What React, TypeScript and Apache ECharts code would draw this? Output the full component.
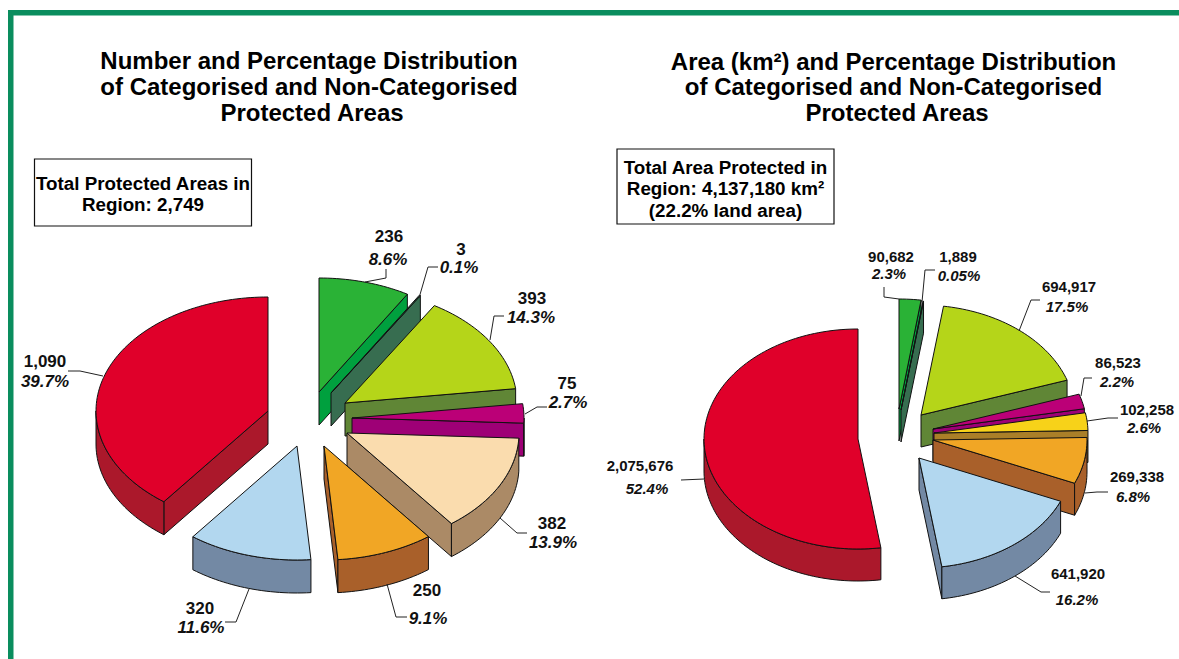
import React, { useEffect, useRef } from "react";
import * as echarts from "echarts";

const FONT = '"Liberation Sans", Arial, sans-serif';
const INK = "#111111";

// ---- data ----
const countValues = [236, 3, 393, 75, 382, 250, 320, 1090];
const countPercents = ["8.6%", "0.1%", "14.3%", "2.7%", "13.9%", "9.1%", "11.6%", "39.7%"];
const areaValues = [90682, 1889, 694917, 86523, 102258, 269338, 641920, 2075676];
const areaPercents = ["2.3%", "0.05%", "17.5%", "2.2%", "2.6%", "6.8%", "16.2%", "52.4%"];

const titleLeft = ["Number and Percentage Distribution", "of Categorised and Non-Categorised", "Protected Areas"];
const titleRight = ["Area (km²) and Percentage Distribution", "of Categorised and Non-Categorised", "Protected Areas"];
const boxLeft = ["Total Protected Areas in", "Region: 2,749"];
const boxRight = ["Total Area Protected in", "Region: 4,137,180 km²", "(22.2% land area)"];

// ---- styles ----
const topsLeft = ["#2AB236", "#2F7A4F", "#B5D519", "#BB0077", "#FADCAE", "#F1A625", "#B2D7EF", "#E0002A"];
const wallsLeft = ["#00A03E", "#376D50", "#608636", "#9E0076", "#AB8A66", "#A9602A", "#7389A4", "#AB182B"];
const topsRight = ["#2AB236", "#2F7A4F", "#B5D519", "#BB0077", "#F7D219", "#F1A625", "#B2D7EF", "#E0002A"];
const wallsRight = ["#00A03E", "#376D50", "#608636", "#9E0076", "#AA7F28", "#A9602A", "#7389A4", "#AB182B"];

// ---- layout ----
const leftPie = { cx: 303, cy: 417, rx: 172, ry: 114, depth: 33, font: 17 };
const rightPie = { cx: 910, cy: 425, rx: 154, ry: 110, depth: 32, font: 15 };
const leftExplode = [[16, -25], [28, -24], [42, -14], [49, 1], [44, 16], [21, 29], [-6, 29], [-35, -6]];
const rightExplode = [[-11, -16], [-9, -15], [11, -10], [23, 4], [24, 8], [23, 15], [9, 33], [-52, 14]];

const leftValuePos = [[389, 236], [461, 249], [532, 298], [567, 383], [552, 523], [427, 590], [200, 608], [45, 361]];
const leftPercentPos = [[388, 259], [459, 267], [531, 317], [568, 402], [553, 542], [428, 618], [201, 627], [45, 381]];
const rightValuePos = [[891, 256], [958, 256], [1069, 286], [1118, 362], [1147, 409], [1137, 476], [1078, 573], [640, 465]];
const rightPercentPos = [[889, 273], [959, 275], [1067, 306], [1117, 381], [1144, 427], [1133, 496], [1077, 599], [647, 488]];

const leftLeaders = [
  [[386, 269], [386, 278], [365, 282]],
  [[438, 267], [428, 267], [419, 298]],
  [[504, 316], [494, 316], [490, 340]],
  [[547, 407], [537, 407], [525, 414]],
  [[527, 533], [517, 533], [500, 518]],
  [[407, 617], [396, 617], [387, 584]],
  [[225, 622], [236, 622], [249, 589]],
  [[68, 371], [80, 371], [103, 376]],
];
const rightLeaders = [
  [[884, 287], [884, 297], [899, 299]],
  [[935, 270], [925, 270], [922, 302]],
  [[1040, 300], [1031, 300], [1019, 331]],
  [[1092, 378], [1084, 378], [1081, 396]],
  [[1118, 418], [1108, 418], [1087, 421]],
  [[1108, 492], [1097, 492], [1085, 493]],
  [[1050, 592], [1041, 592], [1015, 576]],
  [[681, 480], [704, 479]],
];

const RAD = Math.PI / 180;

function pieSeries(
  values: number[],
  percents: string[],
  pie: typeof leftPie,
  explode: number[][],
  tops: string[],
  walls: string[],
  valuePos: number[][],
  percentPos: number[][],
  leaders: number[][][],
) {
  const total = values.reduce((a, b) => a + b, 0);
  const starts: number[] = [];
  values.reduce((acc, v) => {
    starts.push((acc / total) * 360);
    return acc + v;
  }, 0);

  return {
    type: "custom",
    coordinateSystem: "none",
    silent: true,
    data: values.map((v) => [v]),
    renderItem: (params: any, api: any) => {
      const i = params.dataIndex;
      const sweep = (api.value(0) / total) * 360;
      const a0 = starts[i];
      const a1 = a0 + sweep;
      const tx = pie.cx + explode[i][0];
      const ty = pie.cy + explode[i][1];
      const pt = (deg: number, dy = 0) => [
        tx + pie.rx * Math.sin(deg * RAD),
        ty - pie.ry * Math.cos(deg * RAD) + dy,
      ];
      const arc = (from: number, to: number, dy = 0) => {
        const n = Math.max(2, Math.ceil((to - from) / 1.5) + 1);
        const out: number[][] = [];
        for (let k = 0; k < n; k++) out.push(pt(from + ((to - from) * k) / (n - 1), dy));
        return out;
      };
      const line = { stroke: INK, lineWidth: 1, lineJoin: "round" };
      const children: any[] = [];
      const wall = (pts: number[][]) =>
        children.push({ type: "polygon", shape: { points: pts }, style: { fill: walls[i], ...line } });
      const d = pie.depth;
      if (a0 > 180) {
        const e = pt(a0);
        wall([[tx, ty], e, [e[0], e[1] + d], [tx, ty + d]]);
      }
      if (a1 < 180) {
        const e = pt(a1);
        wall([[tx, ty], e, [e[0], e[1] + d], [tx, ty + d]]);
      }
      const lo = Math.max(a0, 90);
      const hi = Math.min(a1, 270);
      if (hi > lo) {
        wall([...arc(lo, hi), ...arc(lo, hi, d).reverse()]);
      }
      children.push({
        type: "polygon",
        shape: { points: [[tx, ty], ...arc(a0, a1)] },
        style: { fill: tops[i], ...line },
      });
      children.push({
        type: "polyline",
        shape: { points: leaders[i] },
        style: { fill: "none", stroke: "#222222", lineWidth: 1 },
      });
      children.push({
        type: "text",
        x: valuePos[i][0],
        y: valuePos[i][1],
        style: {
          text: Number(api.value(0)).toLocaleString("en-US"),
          fill: INK,
          align: "center",
          verticalAlign: "middle",
          font: `bold ${pie.font}px ${FONT}`,
        },
      });
      children.push({
        type: "text",
        x: percentPos[i][0],
        y: percentPos[i][1],
        style: {
          text: percents[i],
          fill: INK,
          align: "center",
          verticalAlign: "middle",
          font: `italic bold ${pie.font}px ${FONT}`,
        },
      });
      return { type: "group", children };
    },
  };
}

function textLines(lines: string[], xs: number[], ys: number[], size: number) {
  return lines.map((t, k) => ({
    type: "text",
    x: xs[k],
    y: ys[k],
    z: 10,
    style: {
      text: t,
      fill: "#000000",
      align: "center",
      verticalAlign: "middle",
      font: `bold ${size}px ${FONT}`,
    },
  }));
}

export default function App() {
  const ref = useRef<HTMLDivElement>(null);
  useEffect(() => {
    document.body.style.margin = "0";
    const chart = echarts.init(ref.current!, undefined, { renderer: "svg" });
    chart.setOption({
      animation: false,
      backgroundColor: "#FFFFFF",
      graphic: [
        { type: "rect", shape: { x: 8, y: 10, width: 1171, height: 5.5 }, style: { fill: "#0A8D5E" } },
        { type: "rect", shape: { x: 8, y: 10, width: 5.5, height: 649 }, style: { fill: "#0A8D5E" } },
        { type: "rect", shape: { x: 34.5, y: 159, width: 217, height: 67 }, style: { fill: "#FFFFFF", stroke: "#111111", lineWidth: 1.2 } },
        { type: "rect", shape: { x: 617, y: 149, width: 217, height: 75 }, style: { fill: "#FFFFFF", stroke: "#111111", lineWidth: 1.2 } },
        ...textLines(titleLeft, [309, 309, 312], [60, 86, 112], 24),
        ...textLines(titleRight, [893.5, 893.5, 897], [61, 86, 112], 24),
        ...textLines(boxLeft, [143, 143], [183, 204], 18.8),
        ...textLines(boxRight, [725.5, 725.5, 725.5], [167, 188, 210], 18.8),
      ],
      series: [
        pieSeries(countValues, countPercents, leftPie, leftExplode, topsLeft, wallsLeft, leftValuePos, leftPercentPos, leftLeaders),
        pieSeries(areaValues, areaPercents, rightPie, rightExplode, topsRight, wallsRight, rightValuePos, rightPercentPos, rightLeaders),
      ],
    });
    return () => chart.dispose();
  }, []);
  return <div ref={ref} style={{ width: 1179, height: 659 }} />;
}
